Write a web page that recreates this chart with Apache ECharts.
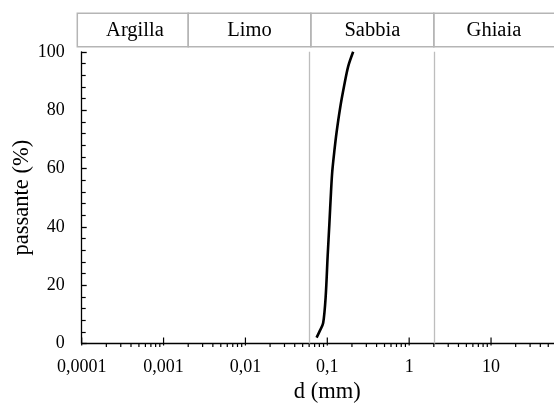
<!DOCTYPE html>
<html>
<head>
<meta charset="utf-8">
<script src="https://cdn.jsdelivr.net/npm/echarts@6/dist/echarts.min.js"></script>
<style>
  html, body { margin: 0; padding: 0; background: #ffffff; }
  #chart { width: 554px; height: 408px; }
</style>
</head>
<body>
<div id="chart"></div>
<script>
// Grain-size distribution curve (passing % vs particle diameter, log scale)
const diameters = [0.074, 0.0815, 0.089, 0.0955, 0.101, 0.106, 0.111, 0.115, 0.122, 0.130, 0.143, 0.161, 0.180, 0.207];
const passing   = [2, 4.5, 7, 16, 30, 41, 52, 59, 66, 72.5, 80.5, 88.5, 95, 100];

// Soil classes and their boundaries (mm)
const classNames  = ['Argilla', 'Limo', 'Sabbia', 'Ghiaia'];
const classLimits = [0.0001, 0.002, 0.063, 2, 100];

// X-axis tick labels (decades) and the intermediate log tick multipliers
const decadeValues = [0.0001, 0.001, 0.01, 0.1, 1, 10, 100];
const decadeLabels = ['0,0001', '0,001', '0,01', '0,1', '1', '10', ''];
const minorMultipliers = [2, 3, 4, 5, 6, 7, 8, 9];

const FONT = '"Liberation Serif", "Times New Roman", serif';
const GRID = { left: 81.7, top: 51.8, width: 491.2, height: 291.7 };

const minorTickValues = [];
decadeValues.slice(0, -1).forEach(d => minorMultipliers.forEach(m => minorTickValues.push(+(d * m).toPrecision(3))));

const curve = diameters.map((d, i) => [d, passing[i]]);
const classBands = classNames.map((n, i) => [classLimits[i], classLimits[i + 1], n]);

const chart = echarts.init(document.getElementById('chart'), null, { renderer: 'canvas' });

chart.setOption({
  animation: false,
  backgroundColor: '#ffffff',
  grid: Object.assign({ containLabel: false, outerBoundsMode: 'none' }, GRID),
  xAxis: {
    type: 'log',
    logBase: 10,
    min: 0.0001,
    max: 100,
    name: 'd (mm)',
    nameLocation: 'middle',
    nameGap: 37,
    nameMoveOverlap: false,
    nameTextStyle: { fontFamily: FONT, fontSize: 22.5, color: '#000' },
    axisLine: { show: true, onZero: false, lineStyle: { color: '#000', width: 1.3 } },
    axisTick: { show: false },
    splitLine: { show: false },
    axisLabel: {
      fontFamily: FONT, fontSize: 18, color: '#000', margin: 15,
      formatter: v => {
        const i = decadeValues.findIndex(d => Math.abs(Math.log10(d) - Math.log10(v)) < 1e-6);
        return i >= 0 ? decadeLabels[i] : '';
      }
    }
  },
  yAxis: {
    type: 'value',
    min: 0,
    max: 100,
    interval: 20,
    name: 'passante (%)',
    nameLocation: 'middle',
    nameGap: 48,
    nameMoveOverlap: false,
    nameTextStyle: { fontFamily: FONT, fontSize: 22.5, color: '#000' },
    axisLine: { show: true, lineStyle: { color: '#000', width: 1.3 } },
    axisTick: { show: true, inside: true, length: 5, lineStyle: { color: '#000', width: 1.3 } },
    minorTick: { show: true, splitNumber: 5, length: 4, lineStyle: { color: '#000', width: 1.2 } },
    splitLine: { show: false },
    axisLabel: { fontFamily: FONT, fontSize: 18, color: '#000', margin: 17 }
  },
  series: [
    {
      // class boundary lines inside the plot
      type: 'line',
      data: [],
      silent: true,
      markLine: {
        silent: true,
        symbol: ['none', 'none'],
        label: { show: false },
        lineStyle: { color: '#bdbdbd', width: 1.3, type: 'solid' },
        data: classLimits.slice(1, -1).map(v => ({ xAxis: v }))
      }
    },
    {
      // header band naming the soil classes
      type: 'custom',
      silent: true,
      clip: false,
      data: classBands,
      renderItem: (params, api) => {
        const lo = api.value(0), hi = api.value(1);
        const isFirst = params.dataIndex === 0;
        const isLast = params.dataIndex === classBands.length - 1;
        let x0 = api.coord([lo, 0])[0];
        const x1 = isLast ? api.getWidth() : api.coord([hi, 0])[0];
        const textCenter = (x0 + x1) / 2;
        if (isFirst) x0 -= 4.4;
        const top = 13.3, h = 33.4;
        return {
          type: 'group',
          children: [
            {
              type: 'rect',
              shape: { x: x0, y: top, width: (isLast ? x1 + 3 : x1) - x0, height: h },
              style: { fill: null, stroke: '#b5b5b5', lineWidth: 1.5 }
            },
            {
              type: 'text',
              x: textCenter,
              y: top + h / 2 + 1,
              style: {
                text: classNames[params.dataIndex],
                font: '20.5px ' + FONT,
                fill: '#000',
                align: 'center',
                verticalAlign: 'middle'
              }
            }
          ]
        };
      }
    },
    {
      // x-axis log ticks: decades cross the axis, intermediate ticks hang below
      type: 'custom',
      silent: true,
      clip: false,
      data: decadeValues.map(v => [v, 1]).concat(minorTickValues.map(v => [v, 0])),
      renderItem: (params, api) => {
        const x = api.coord([api.value(0), 0])[0];
        const yAxisPos = GRID.top + GRID.height;
        const major = api.value(1) === 1;
        return {
          type: 'line',
          shape: major
            ? { x1: x, y1: yAxisPos + 2, x2: x, y2: yAxisPos - 6 }
            : { x1: x, y1: yAxisPos, x2: x, y2: yAxisPos + 3.5 },
          style: { stroke: '#000', lineWidth: 1.2 }
        };
      }
    },
    {
      type: 'line',
      data: curve,
      smooth: 0.3,
      showSymbol: false,
      silent: true,
      lineStyle: { color: '#000', width: 2.6 },
      z: 5
    }
  ]
});
</script>
</body>
</html>
